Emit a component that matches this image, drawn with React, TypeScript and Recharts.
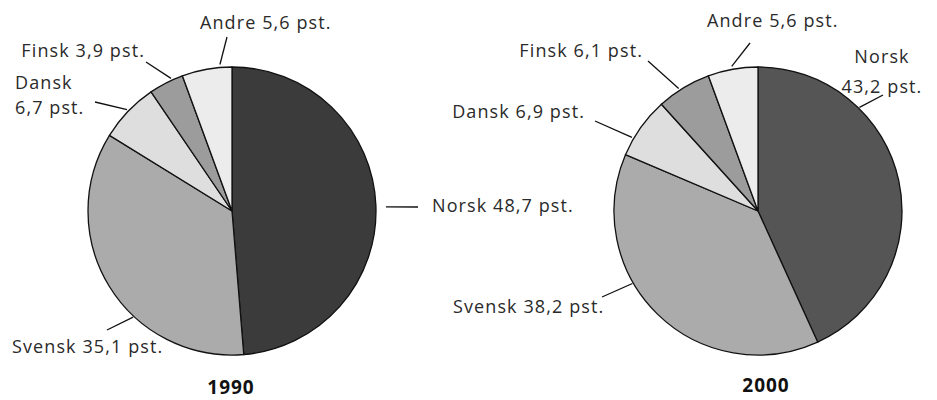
import { PieChart, Pie, Cell, Customized } from "recharts";

const languages = ["Norsk", "Svensk", "Dansk", "Finsk", "Andre"];
const shares1990 = [48.7, 35.1, 6.7, 3.9, 5.6];
const shares2000 = [43.2, 38.2, 6.9, 6.1, 5.6];
const years = ["1990", "2000"];

const COLORS_1990 = ["#3b3b3b", "#ababab", "#dedede", "#9c9c9c", "#ececec"];
const COLORS_2000 = ["#555555", "#ababab", "#dedede", "#9c9c9c", "#ececec"];

const FONT = "'Open Sans', 'DejaVu Sans', sans-serif";

// label layout, relative to pie centre: attach angle (deg clockwise from top),
// line end, text position, anchor
type LabelLayout = {
  angle: number;
  gap: number;
  lx: number;
  ly: number;
  tx: number;
  ty: number;
  anchor: "start" | "middle" | "end";
  split?: boolean;
  lineGap?: number;
};

const LAYOUT_1990: Record<string, LabelLayout> = {
  Norsk: { angle: 88.5, gap: 10, lx: 186, ly: -4, tx: 200, ty: 1, anchor: "start" },
  Svensk: { angle: 223, gap: 1, lx: -125, ly: 119, tx: -220, ty: 142, anchor: "start" },
  Dansk: { angle: 314, gap: 2, lx: -137, ly: -109, tx: -217, ty: -122, anchor: "start", split: true, lineGap: 25 },
  Finsk: { angle: 335.3, gap: 2, lx: -86, ly: -149, tx: -87, ty: -154, anchor: "end" },
  Andre: { angle: 355.3, gap: 3, lx: -5, ly: -174, tx: -32, ty: -182, anchor: "start" },
};

const LAYOUT_2000: Record<string, LabelLayout> = {
  Norsk: { angle: 44.4, gap: 1, lx: 125, ly: -116, tx: 124, ty: -148, anchor: "middle", split: true, lineGap: 30 },
  Svensk: { angle: 240, gap: 1, lx: -156, ly: 86, tx: -305, ty: 102, anchor: "start" },
  Dansk: { angle: 300.3, gap: 2, lx: -163, ly: -90, tx: -173, ty: -93, anchor: "end" },
  Finsk: { angle: 327.1, gap: 2, lx: -110, ly: -150, tx: -115, ty: -154, anchor: "end" },
  Andre: { angle: 349.7, gap: 3, lx: -8, ly: -168, tx: -51, ty: -184, anchor: "start" },
};

const fmt = (v: number) => v.toFixed(1).replace(".", ",") + " pst.";

const makeData = (values: number[]) =>
  languages.map((name, i) => ({ name, value: values[i] }));

const textStyle = {
  fontFamily: FONT,
  fontSize: 18,
  letterSpacing: 1.1,
  fill: "#2a2a2a",
};

const makeLabel = (layout: Record<string, LabelLayout>) => (props: any) => {
  const { cx, cy, outerRadius, name, value } = props;
  const l = layout[name];
  if (!l) return null;
  const rad = (l.angle * Math.PI) / 180;
  const r = outerRadius + l.gap;
  const x1 = cx + r * Math.sin(rad);
  const y1 = cy - r * Math.cos(rad);
  return (
    <g>
      <line x1={x1} y1={y1} x2={cx + l.lx} y2={cy + l.ly} stroke="#111" strokeWidth={1.3} />
      {l.split ? (
        <text x={cx + l.tx} y={cy + l.ty} textAnchor={l.anchor} {...textStyle}>
          <tspan x={cx + l.tx}>{name}</tspan>
          <tspan x={cx + l.tx} dy={l.lineGap}>
            {fmt(value)}
          </tspan>
        </text>
      ) : (
        <text x={cx + l.tx} y={cy + l.ty} textAnchor={l.anchor} {...textStyle}>
          {`${name} ${fmt(value)}`}
        </text>
      )}
    </g>
  );
};

const Titles = () => (
  <g fontFamily={FONT} fontSize={19} letterSpacing={1} fontWeight="bold" fill="#111" textAnchor="middle">
    <text x={231} y={394}>
      {years[0]}
    </text>
    <text x={766} y={392}>
      {years[1]}
    </text>
  </g>
);

export default function App() {
  return (
    <div style={{ position: "absolute", left: 0, top: 0, background: "#fff" }}>
      <PieChart width={937} height={400} margin={{ top: 0, right: 0, bottom: 0, left: 0 }}>
        <Pie
          data={makeData(shares1990)}
          dataKey="value"
          nameKey="name"
          cx={232}
          cy={211}
          outerRadius={144}
          startAngle={90}
          endAngle={-270}
          stroke="#111"
          strokeWidth={1.3}
          label={makeLabel(LAYOUT_1990)}
          labelLine={false}
          isAnimationActive={false}
        >
          {languages.map((lang, i) => (
            <Cell key={lang} fill={COLORS_1990[i]} />
          ))}
        </Pie>
        <Pie
          data={makeData(shares2000)}
          dataKey="value"
          nameKey="name"
          cx={758}
          cy={211}
          outerRadius={144}
          startAngle={90}
          endAngle={-270}
          stroke="#111"
          strokeWidth={1.3}
          label={makeLabel(LAYOUT_2000)}
          labelLine={false}
          isAnimationActive={false}
        >
          {languages.map((lang, i) => (
            <Cell key={lang} fill={COLORS_2000[i]} />
          ))}
        </Pie>
        <Customized component={Titles} />
      </PieChart>
    </div>
  );
}
